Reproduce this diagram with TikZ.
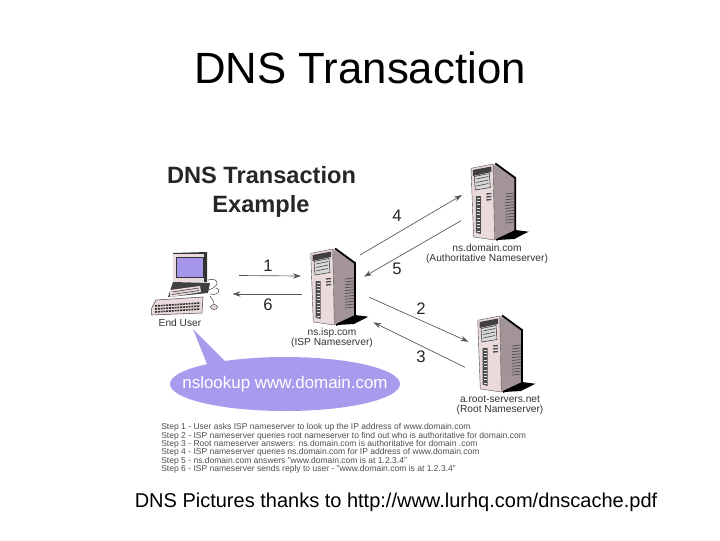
\documentclass[tikz,border=0pt]{standalone}
\usepackage{fontspec}
\setmainfont{Liberation Sans}
\usetikzlibrary{
    positioning,   % Relative positioning
    arrows.meta,   % Modern arrow tips
    shapes.geometric % Ellipse
}
\definecolor{bubblecol}{HTML}{A89BEE}
\definecolor{frontcol}{HTML}{EADADC}
\definecolor{sidecol}{HTML}{A39497}
\definecolor{screencol}{HTML}{A596EA}
\definecolor{linecol}{HTML}{555555}
\tikzset{msgarrow/.style={draw=linecol, line width=0.5pt, -{Stealth[length=6pt,width=4pt]}}}
\tikzset{numlabel/.style={font=\fontsize{12.5}{14}\selectfont, text=black!85}}
\tikzset{hostlabel/.style={font=\fontsize{7.65}{7.5}\selectfont, text=black!80, align=center}}
\tikzset{headlabel/.style={font=\bfseries\fontsize{17.7}{20}\selectfont, text=black!85}}
\tikzset{serverpic/.pic={
    % shadow
    \fill[black] (26.7,77) -- (45,67) -- (58.3,68.7) -- (44,76) -- cycle;
    % side and front
    \fill[sidecol] (22.7,1) -- (45,15) -- (45,68) -- (24.3,77) -- cycle;
    \fill[frontcol, draw=black!70, line width=0.3pt] (0.7,5.3) -- (22.7,1) -- (24.3,77) -- (3.3,74) -- cycle;
    \draw[black, line width=1.4pt] (25,0.5) -- (45,15) -- (45,68) -- (26,77);
    % drive panel
    \fill[black!75] (2.5,7) -- (21,3.5) -- (21,9) -- (2.5,13) -- cycle;
    \fill[black!15, draw=black!80, line width=0.4pt] (4,13.5) -- (19,10.5) -- (20,24.5) -- (5,27) -- cycle;
    \foreach \n in {0,1,2} {
        \draw[black!70, line width=0.5pt] (6,16+\n*3.5) -- (18,13.5+\n*3.5);
    }
    % slot column
    \fill[black!70] (5.5,33) -- (10.5,33) -- (10.5,71) -- (5.5,69.5) -- cycle;
    \foreach \n in {0,...,10} {
        \draw[black!10, line width=0.4pt] (6.5,35+\n*3.3) -- (9.5,35+\n*3.3);
    }
    \draw[black!70, line width=1pt] (16,31) -- (21,30.5) (16,34) -- (21,33.5) (16,37) -- (21,36.5);
    % vents
    \foreach \n in {0,...,10} {
        \draw[black!70, line width=0.5pt] (35,31+\n*2.9) -- (44,30+\n*2.9);
    }
}}
\tikzset{computerpic/.pic={
    % monitor
    \fill[black!80] (23,3) -- (57,2) -- (57,32) -- (23,32) -- cycle;
    \fill[frontcol] (23,4) -- (54,4) -- (54,32) -- (23,32) -- cycle;
    \fill[screencol, draw=black!80, line width=0.3pt] (26,7.3) rectangle (52.7,26.7);
    % base
    \fill[black!75] (23,32) -- (60,33) -- (58,43) -- (18,47) -- cycle;
    \fill[frontcol] (20,40) -- (50,36) -- (51,42) -- (20,47) -- cycle;
    \draw[black!80, line width=0.4pt] (22,42) -- (49,38) (22,44.5) -- (49,40.5);
    % keyboard
    \fill[frontcol, draw=black!70, line width=0.4pt] (1.7,58) -- (6,50) -- (53,47) -- (52,63) -- (1.7,65) -- cycle;
    \foreach \n in {0,1,2} {
        \draw[black!80, line width=1.2pt, dash pattern=on 1.5pt off 0.6pt] (5,56+\n*3) -- (50,53+\n*3);
    }
    % mouse and cord
    \draw[black!70, line width=0.4pt] (58,40) .. controls (72,36) and (68,27) .. (58,30)
        (60,44) .. controls (68,46) and (72,40) .. (66,38)
        (60,46) .. controls (62,50) and (64,50) .. (64,55);
    \fill[frontcol, draw=black!70, line width=0.4pt] (64,57) ellipse (3.5 and 2.5);
}}
\begin{document}
\begin{tikzpicture}[x=0.75pt,y=-0.75pt]
    \useasboundingbox (0,0) rectangle (720,540);

    \node[font=\fontsize{32.8}{36}\selectfont] (title) at (360,68) {DNS Transaction};
    \node[headlabel] (subtitle) at (261.5,175) {DNS Transaction};
    \node[headlabel] (example) at (261,206) {Example};

    % machines
    \pic at (150,250) {computerpic};
    \pic at (310,248) {serverpic};
    \pic at (470.3,163) {serverpic};
    \pic at (477,315) {serverpic};

    \node[hostlabel] (user) at (180,323) {End User};
    \node[hostlabel] (isp) at (332,338) {ns.isp.com\\(ISP Nameserver)};
    \node[hostlabel] (auth) at (487,254) {ns.domain.com\\(Authoritative Nameserver)};
    \node[hostlabel] (root) at (500,405.5) {a.root-servers.net\\(Root Nameserver)};

    % speech bubble
    \fill[bubblecol] (193,329) -- (207,364) -- (226,362) -- cycle;
    \node[ellipse, fill=bubblecol, minimum width=172.5pt, minimum height=40.5pt, inner sep=0pt] (bubble) at (285,384) {};
    \node[text=white, font=\fontsize{12.7}{15}\selectfont] (command) at (bubble.center) {nslookup www.domain.com};

    % messages
    \coordinate (user out) at (239,275.5);
    \coordinate (isp in) at (301,276);
    \coordinate (isp out) at (302,294);
    \coordinate (user in) at (232.5,294);
    \coordinate (isp up) at (360,255);
    \coordinate (auth in) at (462,195);
    \coordinate (auth out) at (461,220.7);
    \coordinate (isp upin) at (364,276.7);
    \coordinate (isp dn) at (369.3,297.3);
    \coordinate (root in) at (468.5,341.7);
    \coordinate (root out) at (465,367.3);
    \coordinate (isp dnin) at (373.3,322.3);

    \draw[msgarrow] (user out) -- (isp in);
    \draw[msgarrow] (isp out) -- (user in);
    \draw[msgarrow] (isp up) -- (auth in);
    \draw[msgarrow] (auth out) -- (isp upin);
    \draw[msgarrow] (isp dn) -- (root in);
    \draw[msgarrow] (root out) -- (isp dnin);

    \node[numlabel] (num1) at (268,266) {1};
    \node[numlabel] (num6) at (268,305) {6};
    \node[numlabel] (num4) at (397,216) {4};
    \node[numlabel] (num5) at (397,269) {5};
    \node[numlabel] (num2) at (421,309) {2};
    \node[numlabel] (num3) at (421,357) {3};

    \node[anchor=north west, inner sep=0pt, align=left, text=black!70, font=\fontsize{6.4}{6.2}\selectfont] (steps) at (161,423.5) {%
        Step 1 - User asks ISP nameserver to look up the IP address of www.domain.com\\
        Step 2 - ISP nameserver queries root nameserver to find out who is authoritative for domain.com\\
        Step 3 - Root nameserver answers: ns.domain.com is authoritative for domain .com\\
        Step 4 - ISP nameserver queries ns.domain.com for IP address of www.domain.com\\
        Step 5 - ns.domain.com answers "www.domain.com is at 1.2.3.4"\\
        Step 6 - ISP nameserver sends reply to user - "www.domain.com is at 1.2.3.4"};

    \node[font=\fontsize{15}{17}\selectfont] (credit) at (396,502) {DNS Pictures thanks to http://www.lurhq.com/dnscache.pdf};
\end{tikzpicture}
\end{document}
